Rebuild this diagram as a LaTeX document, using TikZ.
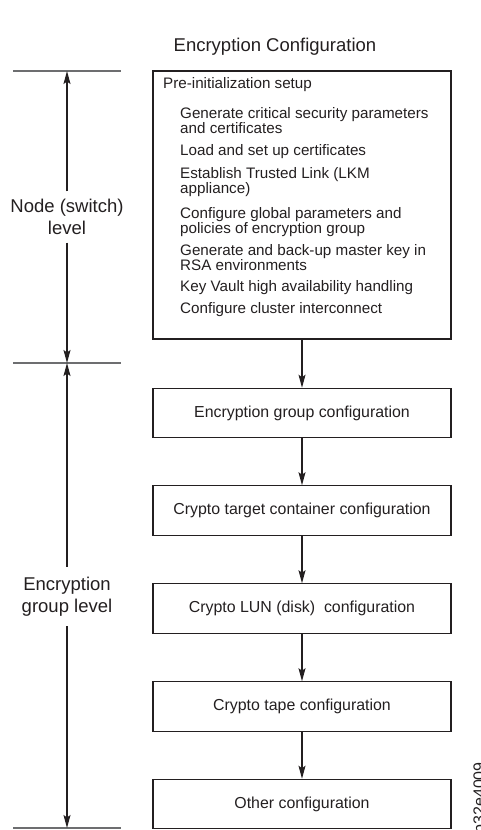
\documentclass[tikz,border=0pt]{standalone}
\usepackage{fontspec}
\setmainfont{Liberation Sans}
\usetikzlibrary{arrows.meta}
\definecolor{ink}{HTML}{231F20}
\definecolor{rulegray}{HTML}{6D6E70}
\tikzset{
  every node/.style={text=ink},
  box/.style={draw=ink, line width=1.1pt, minimum width=298pt, minimum height=49.5pt, inner sep=0pt,
              font=\fontsize{15.9}{18}\selectfont},
  item/.style={anchor=base west, inner sep=0pt, align=left, font=\fontsize{15.2}{15}\selectfont},
  flow/.style={draw=ink, line width=1.1pt, -{Stealth[length=13pt,width=7pt,inset=2.5pt]}},
  levelrule/.style={draw=rulegray, line width=1.1pt},
  levellabel/.style={inner sep=0pt, align=center, font=\fontsize{18.5}{22}\selectfont},
}
\begin{document}
\begin{tikzpicture}[x=1pt,y=-1pt]
\useasboundingbox (0,0) rectangle (481,830);

% title
\node[font=\fontsize{18.5}{22}\selectfont] (title) at (275,47) {Encryption Configuration};

% level rules
\coordinate (r1a) at (13,71);  \coordinate (r1b) at (121,71);
\coordinate (r2a) at (13,363); \coordinate (r2b) at (121,363);
\coordinate (r3a) at (13,828); \coordinate (r3b) at (121,828);
\draw[levelrule] (r1a) -- (r1b);
\draw[levelrule] (r2a) -- (r2b);
\draw[levelrule] (r3a) -- (r3b);
\coordinate (t1) at (67,71);
\coordinate (t2) at (67,363);
\coordinate (t3) at (67,828);

\node[levellabel, minimum height=51pt] (nodelevel) at (67,217) {Node (switch)\\level};
\node[levellabel, minimum height=59pt] (grouplevel) at (67,596.5) {Encryption\\group level};

\draw[flow] (nodelevel.north) -- (t1);
\draw[flow] (nodelevel.south) -- (t2);
\draw[flow] (grouplevel.north) -- (t2);
\draw[flow] (grouplevel.south) -- (t3);

% pre-initialization box
\node[draw=ink, line width=1.1pt, minimum width=298pt, minimum height=268pt, inner sep=0pt] (pre) at (302,205) {};
\node[item] (prehead) at (163,88) {Pre-initialization setup};
\node[item] (i1) at (180,133.5) {Generate critical security parameters\\and certificates};
\node[item] (i2) at (180,155) {Load and set up certificates};
\node[item] (i3) at (180,193) {Establish Trusted Link (LKM\\appliance)};
\node[item] (i4) at (180,233) {Configure global parameters and\\policies of encryption group};
\node[item] (i5) at (180,270) {Generate and back-up master key in\\RSA environments};
\node[item] (i6) at (180,291.5) {Key Vault high availability handling};
\node[item] (i7) at (180,313.5) {Configure cluster interconnect};

% configuration boxes
\node[box] (eg)  at (302,413)   {Encryption group configuration};
\node[box] (ctc) at (302,510.5) {Crypto target container configuration};
\node[box] (lun) at (302,608.5) {Crypto LUN (disk)\ \ configuration};
\node[box] (tape) at (302,706.5) {Crypto tape configuration};
\node[box] (other) at (302,804) {Other configuration};

\draw[flow] (pre.south) -- (eg.north);
\draw[flow] (eg.south) -- (ctc.north);
\draw[flow] (ctc.south) -- (lun.north);
\draw[flow] (lun.south) -- (tape.north);
\draw[flow] (tape.south) -- (other.north);

% figure id
\node[rotate=90, anchor=base east, inner sep=0pt, font=\fontsize{16}{18}\selectfont] (figid) at (484.5,762) {b32e4009};
\end{tikzpicture}
\end{document}
